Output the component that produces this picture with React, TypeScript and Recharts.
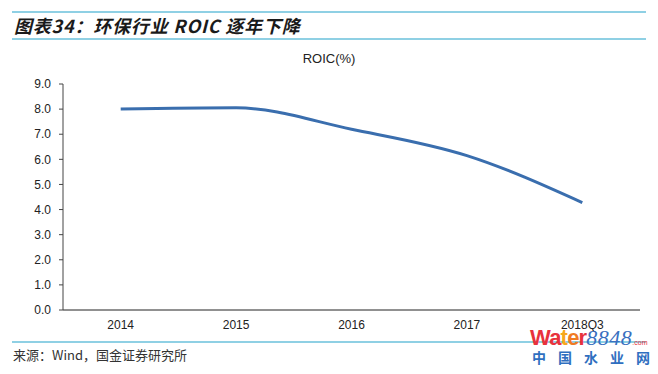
import React from 'react';
import { LineChart, Line, XAxis, YAxis } from 'recharts';

const categories = ['2014', '2015', '2016', '2017', '2018Q3'];
const roicValues = [8.0, 8.05, 7.2, 6.15, 4.28];
const yTicks = [0, 1, 2, 3, 4, 5, 6, 7, 8, 9];
const boundaryTicks = [0, 1, 2, 3, 4, 5];
const watermarkChars = ['中', '国', '水', '业', '网'];

const data = categories.map((c, i) => ({ year: c, roic: roicValues[i] }));

const FONT = '"Liberation Sans", Arial, sans-serif';
const CJK = '"Noto Sans CJK SC", "Liberation Sans", sans-serif';

export default function App() {
  return (
    <div style={{ position: 'absolute', left: 0, top: 0, width: 658, height: 374, background: '#fff', overflow: 'hidden' }}>
      <div style={{ position: 'absolute', left: 12, top: 11, width: 634, height: 2, background: '#8fd0e4' }} />
      <div style={{ position: 'absolute', left: 12, top: 38, width: 634, height: 2, background: '#8fd0e4' }} />
      <div style={{ position: 'absolute', left: 14, top: 13, height: 25, lineHeight: '25px', fontFamily: CJK, fontSize: 18, fontWeight: 700, fontStyle: 'italic', color: '#1a1a1a', whiteSpace: 'nowrap', letterSpacing: 0.8 }}>
        图表34：环保行业 ROIC 逐年下降
      </div>
      <div style={{ position: 'absolute', left: 0, top: 51, width: 658, textAlign: 'center', fontFamily: FONT, fontSize: 13, color: '#222' }}>
        ROIC(%)
      </div>
      <div style={{ position: 'absolute', left: 0, top: 0 }}>
        <LineChart width={658} height={374} data={data} margin={{ top: 84, right: 18, bottom: 34, left: 0 }}>
          <XAxis
            xAxisId="b"
            type="number"
            domain={[0, 5]}
            ticks={boundaryTicks}
            allowDataOverflow
            height={0}
            tickFormatter={() => ''}
            axisLine={false}
            tickLine={{ stroke: '#222' }}
            tickSize={4}
          />
          <XAxis
            xAxisId="cat"
            dataKey="year"
            scale="band"
            height={30}
            axisLine={{ stroke: '#222', strokeWidth: 1 }}
            tickLine={false}
            tickSize={4}
            tickMargin={6}
            tick={{ fill: '#222', fontSize: 12, fontFamily: FONT }}
          />
          <YAxis
            domain={[0, 9]}
            ticks={yTicks}
            width={63}
            interval={0}
            tickFormatter={(v: number) => v.toFixed(1)}
            axisLine={{ stroke: '#444' }}
            tickLine={{ stroke: '#444' }}
            tickSize={4}
            tickMargin={8}
            tick={{ fill: '#222', fontSize: 12, fontFamily: FONT }}
          />
          <Line
            xAxisId="cat"
            type="monotone"
            dataKey="roic"
            stroke="#3a6eae"
            strokeWidth={3}
            dot={false}
            isAnimationActive={false}
          />
        </LineChart>
      </div>
      <div style={{ position: 'absolute', left: 12, top: 341, width: 634, height: 2, background: '#8fd0e4' }} />
      <div style={{ position: 'absolute', left: 13, top: 345, fontFamily: CJK, fontSize: 13, color: '#333', whiteSpace: 'nowrap' }}>
        来源：Wind，国金证券研究所
      </div>
      <div style={{ position: 'absolute', left: 530, top: 327, whiteSpace: 'nowrap', lineHeight: '21px' }}>
        <span style={{ fontFamily: FONT, fontWeight: 700, fontSize: 22, letterSpacing: -0.8 }}>
          <span style={{ color: '#e8323c' }}>Wa</span>
          <span style={{ color: '#f6a81c' }}>t</span>
          <span style={{ color: '#f07a22' }}>e</span>
          <span style={{ color: '#e8323c' }}>r</span>
        </span>
        <span style={{ fontFamily: '"Liberation Serif", serif', fontStyle: 'italic', fontSize: 22, color: '#3a70c0', letterSpacing: 0.5 }}>8848</span>
        <span style={{ fontFamily: FONT, fontSize: 7, color: '#e8323c' }}>.com</span>
      </div>
      <div style={{ position: 'absolute', left: 532, top: 349, display: 'flex', gap: 12, whiteSpace: 'nowrap', fontFamily: CJK, fontWeight: 700, fontSize: 14, lineHeight: '16px', color: '#2f6fc0' }}>
        {watermarkChars.map((ch) => (
          <span key={ch}>{ch}</span>
        ))}
      </div>
    </div>
  );
}
